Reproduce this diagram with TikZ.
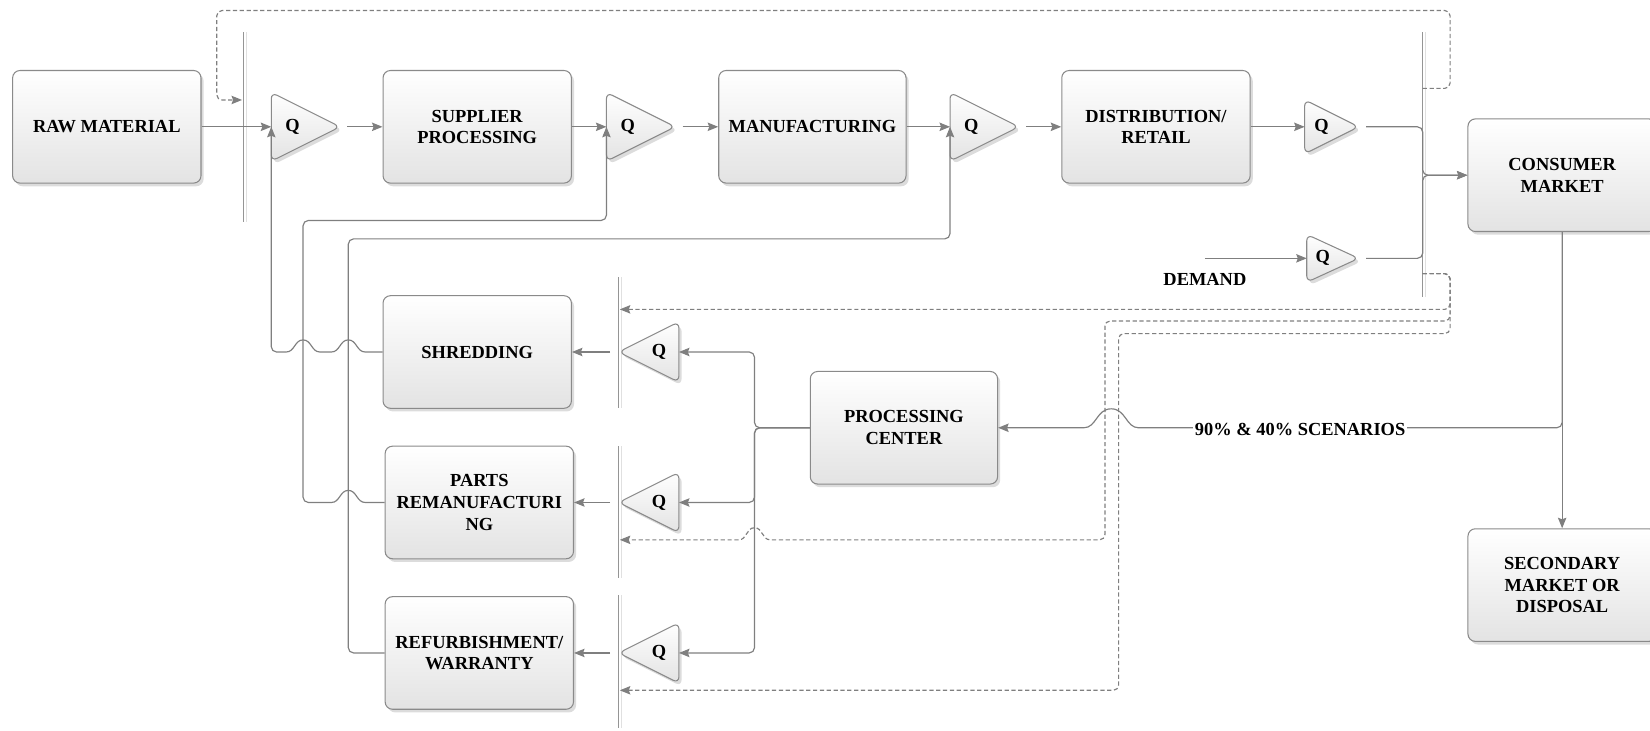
\documentclass[tikz,border=0pt]{standalone}
\usepackage{fontspec}
\setmainfont{Liberation Serif}
\usetikzlibrary{arrows.meta,shadows,calc}

\definecolor{linegray}{HTML}{7F7F7F}
\definecolor{bargray}{HTML}{959595}
\definecolor{edgegray}{HTML}{8A8A8A}
\definecolor{shadebot}{HTML}{E3E3E3}
\newcommand\dfont{\fontsize{17.5}{20.5}\selectfont\bfseries}

\begin{document}
\begin{tikzpicture}[x=1pt,y=-1pt,
  shadowed/.style={drop shadow={shadow xshift=2.5pt,shadow yshift=-3pt,opacity=0.3,fill=black!45}},
  stagebox/.style={shadowed, draw=edgegray, line width=1pt, rounded corners=7pt,
     top color=white, bottom color=shadebot, minimum width=179pt, minimum height=107pt,
     inner sep=2pt, align=center, font=\dfont, text=black},
  qslot/.style={inner sep=0pt, draw=none},
  qshape/.style={shadowed, draw=edgegray, line width=1pt, rounded corners=6pt,
     top color=white, bottom color=shadebot},
  qmark/.style={font=\dfont, inner sep=0pt},
  txt/.style={font=\dfont, inner sep=1.5pt},
  bar/.style={inner sep=0pt, minimum width=1pt, fill=bargray, draw=none,
     drop shadow={shadow xshift=3pt, shadow yshift=0pt, opacity=1, fill=black!12}},
  flow/.style={draw=linegray, line width=1.1pt, rounded corners=5pt,
     -{Stealth[length=10pt,width=8pt,inset=1.5pt]}},
  sig/.style={flow, dash pattern=on 4pt off 2.5pt}
]
\useasboundingbox (0,0) rectangle (1568,694);

% inventory bars
\node[bar, minimum height=181pt] (barA) at (231,120.5) {};
\node[bar, minimum height=252pt] (barB) at (1352,156) {};
\node[bar, minimum height=125pt] (barC) at (588,325.5) {};
\node[bar, minimum height=125pt] (barD) at (588,486.5) {};
\node[bar, minimum height=127pt] (barE) at (588,628.5) {};

% process stages
\node[stagebox] (raw) at (101.5,120.5) {RAW MATERIAL};
\node[stagebox] (sup) at (453.5,120.5) {SUPPLIER\\PROCESSING};
\node[stagebox, minimum width=178pt] (man) at (772,120.5) {MANUFACTURING};
\node[stagebox] (dist) at (1098.5,120.5) {DISTRIBUTION/\\RETAIL};
\node[stagebox] (cons) at (1484.5,166.5) {CONSUMER\\MARKET};
\node[stagebox] (sec) at (1484.5,556) {SECONDARY\\MARKET OR\\DISPOSAL};
\node[stagebox] (shred) at (453.5,334.5) {SHREDDING};
\node[stagebox] (parts) at (455.5,477.5) {PARTS\\REMANUFACTURI\\NG};
\node[stagebox] (refurb) at (455.5,620.5) {REFURBISHMENT/\\WARRANTY};
\node[stagebox, minimum width=178pt] (proc) at (859,406.5) {PROCESSING\\CENTER};

% queue slots
\node[qslot, minimum width=65pt, minimum height=65pt] (q1) at (290.5,120.5) {};
\node[qslot, minimum width=65pt, minimum height=65pt] (q2) at (609,120.5) {};
\node[qslot, minimum width=65pt, minimum height=65pt] (q3) at (935.5,120.5) {};
\node[qslot, minimum width=51pt, minimum height=51pt] (q4) at (1265.5,120.5) {};
\node[qslot, minimum width=49pt, minimum height=45pt] (q5) at (1266.5,245.5) {};
\node[qslot, minimum width=57pt, minimum height=57pt] (q6) at (616.5,334.5) {};
\node[qslot, minimum width=57pt, minimum height=57pt] (q7) at (616.5,477.5) {};
\node[qslot, minimum width=57pt, minimum height=57pt] (q8) at (616.5,620.5) {};

% queue triangles
\foreach \q in {q1,q2,q3,q4,q5}
  \path[qshape] (\q.north west) -- (\q.east) -- (\q.south west) -- cycle;
\foreach \q in {q6,q7,q8}
  \path[qshape] (\q.north east) -- (\q.west) -- (\q.south east) -- cycle;
\foreach \q in {q1,q2,q3,q4,q5}
  \node[qmark] (\q t) at ($(\q.west)!0.31!(\q.east)$) {Q};
\foreach \q in {q6,q7,q8}
  \node[qmark] (\q t) at ($(\q.east)!0.33!(\q.west)$) {Q};

% free ends
\coordinate (dstart) at (1145,245.5);
\coordinate (outB1) at (1352,84);
\coordinate (outB2) at (1352,260);
\coordinate (inA) at (230,95);
\coordinate (inC) at (589,294);
\coordinate (inD) at (589,513);
\coordinate (inE) at (589,656);

% forward chain
\draw[flow] (raw.east) -- (q1.west);
\draw[flow] ([xshift=7pt]q1.east) -- (sup.west);
\draw[flow] (sup.east) -- (q2.west);
\draw[flow] ([xshift=7pt]q2.east) -- (man.west);
\draw[flow] (man.east) -- (q3.west);
\draw[flow] ([xshift=7pt]q3.east) -- (dist.west);
\draw[flow] (dist.east) -- (q4.west);
\draw[flow] ([xshift=7pt]q4.east) -- (q4.east -| barB) |- (cons.west);
\draw[flow] ([xshift=7pt]q5.east) -- (q5.east -| barB) |- (cons.west);
\draw[flow] (dstart) -- (q5.west);
\node[txt] (demand) at (1145,266) {DEMAND};

% market outflows
\draw[flow] (cons.south) -- (sec.north);
\draw[flow] (cons.south) -- (cons.south |- proc.east) -- (1086,406.5) [sharp corners]
  -- (1082,406.5)
  .. controls (1070,406.5) and (1070,388.5) .. (1056,388.5)
  .. controls (1042,388.5) and (1042,406.5) .. (1030,406.5) -- (proc.east);
\node[txt, fill=white] (scen) at (1235.5,408) {90\% \& 40\% SCENARIOS};

% processing center to recovery queues
\draw[flow] (proc.west) -- (717,406.5) |- (q6.east);
\draw[flow] (proc.west) -- (717,406.5) |- (q7.east);
\draw[flow] (proc.west) -- (717,406.5) |- (q8.east);
\draw[flow] ([xshift=-8pt]q6.west) -- (shred.east);
\draw[flow] ([xshift=-8pt]q7.west) -- (parts.east);
\draw[flow] ([xshift=-8pt]q8.west) -- (refurb.east);

% recovered material back into the chain
\draw[flow] (shred.west) -- (352,334.5) [sharp corners] -- (347,334.5)
  .. controls (339,334.5) and (339,323) .. (331,323)
  .. controls (323,323) and (323,334.5) .. (315,334.5) -- (304,334.5)
  .. controls (296,334.5) and (296,323) .. (288,323)
  .. controls (280,323) and (280,334.5) .. (272,334.5) -- (268,334.5)
  [rounded corners=5pt] -- (q1.west |- shred.west) -- (q1.west);
\draw[flow] (parts.west) -- (352,477.5) [sharp corners] -- (347,477.5)
  .. controls (339,477.5) and (339,466) .. (331,466)
  .. controls (323,466) and (323,477.5) .. (315,477.5) -- (310,477.5)
  [rounded corners=5pt] -- (288,477.5) -- (288,209.5) -| (q2.west);
\draw[flow] (refurb.west) -- (331,620.5) -- (331,227) -| (q3.west);

% information signals
\draw[sig] (outB1) -- (1378,84) -- (1378,10) -- (206,10) -- (206,95) -- (inA);
\draw[sig] (outB2) -- (1378,260) -- (1378,294) -- (inC);
\draw[sig] (outB2) -- (1378,260) -- (1378,305) -- (1050,305) -- (1050,513) -- (737,513)
  [sharp corners] -- (732,513)
  .. controls (724,513) and (725,501.5) .. (717,501.5)
  .. controls (709,501.5) and (710,513) .. (702,513) -- (inD);
\draw[sig] (outB2) -- (1378,260) -- (1378,317) -- (1063,317) -- (1063,656) -- (inE);
\end{tikzpicture}
\end{document}
